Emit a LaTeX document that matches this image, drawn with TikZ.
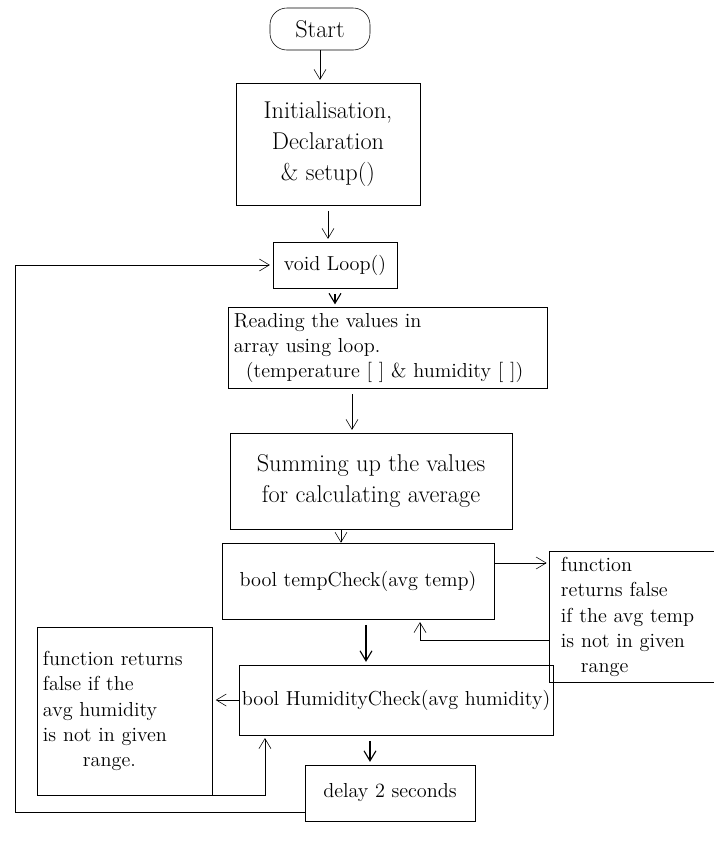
\documentclass[tikz,border=0pt]{standalone}
\usetikzlibrary{arrows.meta}

\begin{document}
\begin{tikzpicture}[x=0.025cm, y=-0.025cm]
\tikzset{boite/.style={draw, rectangle, align=center, font=\Large, inner sep=4pt}}
\tikzset{fleche/.style={-{Straight Barb[length=2.5mm, width=3mm]}, shorten >=2pt}}
\useasboundingbox (0, 0) rectangle (714, 850);
\node[boite, font=\LARGE, rounded corners=12pt, minimum width=2.5cm, minimum height=1.05cm] (Deb) at (320, 29) {Start};
\node[boite, font=\LARGE, minimum width=4.6cm, minimum height=3.05cm] (Init) at (328, 144) {Initialisation,\\ Declaration\\ \& setup()};
\node[boite, minimum width=3.1cm, minimum height=1.15cm] (Loop) at (335, 265) {void Loop()};
\node[boite, align=left, text width=7.7cm, minimum height=1.9cm] (Lire) at (388, 348) {Reading the values in\\ array using loop.\\ \hspace*{0.3cm}(temperature [ ] \& humidity [ ])};
\node[boite, font=\LARGE, minimum width=7.05cm, minimum height=2.4cm] (Somme) at (371, 481) {Summing up the values\\ for calculating average};
\node[boite, minimum width=6.8cm, minimum height=1.9cm] (TC) at (358, 581) {bool tempCheck(avg temp)};
\node[boite, align=left, text width=3.6cm, inner xsep=8pt, minimum height=3.1cm] (TF) at (633, 617) {function\\ returns false\\ if the avg temp\\ is not in given\\ \hspace*{0.5cm}range};
\node[boite, inner sep=2pt, minimum width=7.8cm, minimum height=1.75cm] (HC) at (396, 700) {bool HumidityCheck(avg humidity)};
\node[boite, align=left, text width=4.1cm, minimum height=4.2cm] (HF) at (125, 711) {function returns\\ false if the\\ avg humidity\\ is not in given\\ \hspace*{1cm}range.};
\node[boite, minimum width=4.25cm, minimum height=1.4cm] (Delai) at (390, 793) {delay 2 seconds};
\coordinate (Coin) at (15, 812);
\draw[fleche] (Deb) -- (Deb |- Init.north);
\draw[fleche, shorten <=4pt] (Init) -- (Init |- Loop.north);
\draw[fleche, thick, shorten <=4pt] (Loop) -- (Loop |- Lire.north);
\draw[fleche, shorten <=4pt] ([xshift=-0.9cm]Lire.south) -- ([xshift=-0.9cm]Lire.south |- Somme.north);
\draw[fleche, shorten >=0pt] ([xshift=-0.75cm]Somme.south) -- ([xshift=-0.75cm]Somme.south |- TC.north);
\draw[fleche] ([yshift=0.45cm]TC.east) -- ([yshift=0.45cm]TC.east -| TF.west);
\draw[fleche] ([yshift=-0.575cm]TF.west) -| ([xshift=1.55cm]TC.south);
\draw[fleche, thick, shorten <=4pt] ([xshift=0.2cm]TC.south) -- ([xshift=0.2cm]TC.south |- HC.north);
\draw[fleche] (HC.west) -- (HC.west -| HF.east);
\draw[fleche] ([xshift=1.625cm]HF.south) -| ([xshift=-3.275cm]HC.south);
\draw[fleche, thick, shorten <=4pt] ([xshift=-0.65cm]HC.south) -- ([xshift=-0.65cm]HC.south |- Delai.north);
\draw[fleche] (Coin -| Delai.west) -- (Coin) |- (Loop.west);
\end{tikzpicture}
\end{document}
